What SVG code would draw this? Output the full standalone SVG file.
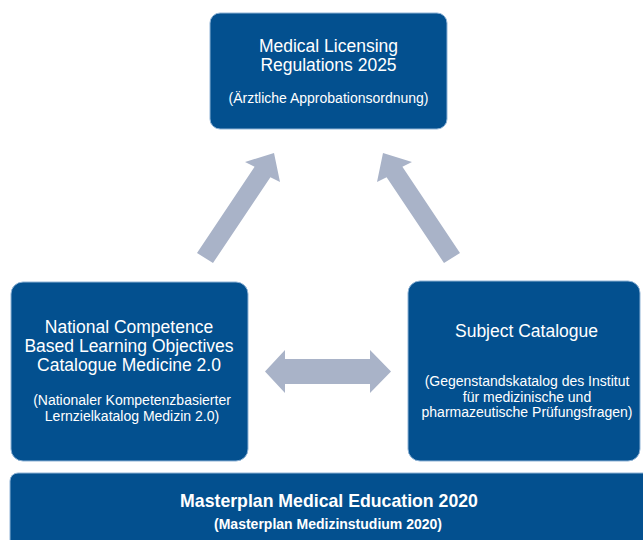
<svg xmlns="http://www.w3.org/2000/svg" width="643" height="540" viewBox="0 0 643 540">
  <style>
    .box { fill: #03508f; stroke: #8fb3d6; stroke-width: 1; }
    .arrow { fill: #a9b3c8; }
    text { font-family: "Liberation Sans", Arial, sans-serif; fill: #ffffff; text-anchor: middle; }
    .title { font-size: 17.5px; }
    .sub { font-size: 14px; }
    .btitle { font-size: 17.7px; font-weight: bold; }
    .bsub { font-size: 14px; font-weight: bold; }
  </style>
  <rect width="643" height="540" fill="#ffffff"/>

  <!-- connectors -->
  <g id="connectors">
    <polygon class="arrow" points="197,253 254.6,166.8 245,162 274,153 280,182 270.4,177.2 213,263"/>
    <polygon class="arrow" points="460,253 402.4,166.8 412,162 383,153 377,182 386.6,177.2 444,263"/>
    <polygon class="arrow" points="265,371.5 285,350 285,359 370,359 370,350 391,371.5 370,393 370,384 285,384 285,393"/>
  </g>

  <!-- Medical Licensing Regulations -->
  <g id="licensing">
    <rect class="box" x="210" y="13" width="237" height="116" rx="10"/>
    <text class="title" x="328.5" y="52">Medical Licensing</text>
    <text class="title" x="328.5" y="71">Regulations 2025</text>
    <text class="sub" x="328.5" y="103">(Ärztliche Approbationsordnung)</text>
  </g>

  <!-- National Competence Based Learning Objectives Catalogue -->
  <g id="nklm">
    <rect class="box" x="11" y="282" width="237" height="179" rx="12"/>
    <text class="title" x="129" y="333">National Competence</text>
    <text class="title" x="129" y="352">Based Learning Objectives</text>
    <text class="title" x="129" y="371">Catalogue Medicine 2.0</text>
    <text class="sub" x="132" y="405">(Nationaler Kompetenzbasierter</text>
    <text class="sub" x="132" y="421">Lernzielkatalog Medizin 2.0)</text>
  </g>

  <!-- Subject Catalogue -->
  <g id="subject">
    <rect class="box" x="408" y="281" width="232" height="180" rx="12"/>
    <text class="title" x="526.5" y="337">Subject Catalogue</text>
    <text class="sub" x="527" y="386">(Gegenstandskatalog des Institut</text>
    <text class="sub" x="527" y="402">für medizinische und</text>
    <text class="sub" x="527" y="417">pharmazeutische Prüfungsfragen)</text>
  </g>

  <!-- Masterplan -->
  <g id="masterplan">
    <rect class="box" x="10" y="473" width="645" height="80" rx="8"/>
    <text class="btitle" x="329" y="507">Masterplan Medical Education 2020</text>
    <text class="bsub" x="328" y="529">(Masterplan Medizinstudium 2020)</text>
  </g>
</svg>
